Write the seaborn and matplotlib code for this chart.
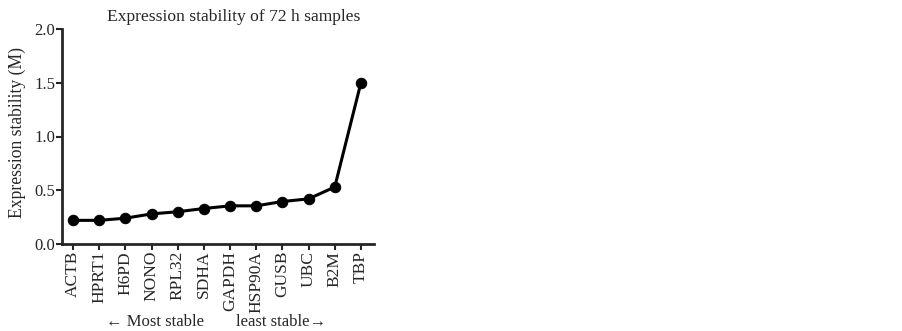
import numpy as np
import pandas as pd
import matplotlib
matplotlib.use("Agg")
import matplotlib.pyplot as plt
import seaborn as sns

genes = ["ACTB", "HPRT1", "H6PD", "NONO", "RPL32", "SDHA",
         "GAPDH", "HSP90A", "GUSB", "UBC", "B2M", "TBP"]
stability = [0.22, 0.22, 0.24, 0.28, 0.30, 0.33,
             0.355, 0.355, 0.395, 0.42, 0.53, 1.50]

df = pd.DataFrame({"gene": genes, "M": stability})
df["pos"] = np.arange(len(genes))

sns.set_style("ticks")
plt.rcParams["font.family"] = ["Liberation Serif", "DejaVu Serif"]

fig = plt.figure(figsize=(9.03, 3.31), dpi=100)
ax = fig.add_axes([62 / 903, 1 - 244 / 331, (374 - 62) / 903, (244 - 29) / 331])

sns.lineplot(data=df, x="pos", y="M", ax=ax, color="black", linewidth=2.2,
             marker="o", markersize=7.5, markeredgecolor="black")

ax.set_xlim(-0.42, 11.5)
ax.set_ylim(0, 2.0)
ax.set_xticks(df["pos"])
ax.set_xticklabels(genes, rotation=90, fontsize=12.5)
ax.set_yticks([0.0, 0.5, 1.0, 1.5, 2.0])
ax.set_yticklabels(["0.0", "0.5", "1.0", "1.5", "2.0"], fontsize=12)
ax.tick_params(axis="both", direction="out", length=4, width=1.5, pad=1)
for s in ["left", "bottom"]:
    ax.spines[s].set_linewidth(2)
sns.despine(ax=ax)

ax.set_xlabel("")
ax.set_ylabel("Expression stability (M)", fontsize=12.7)
ax.yaxis.set_label_coords(-0.115, 0.52)
ax.set_title("Expression stability of 72 h samples", fontsize=12.6, x=0.55, pad=6)

fig.text(155 / 903, 1 - 322 / 331, "\u2190 Most stable", ha="center", va="center",
         fontsize=12, family=["Liberation Serif", "DejaVu Sans"])
fig.text(281 / 903, 1 - 322 / 331, "least stable\u2192", ha="center", va="center",
         fontsize=12, family=["Liberation Serif", "DejaVu Sans"])

fig.savefig("out.png", dpi=100)
